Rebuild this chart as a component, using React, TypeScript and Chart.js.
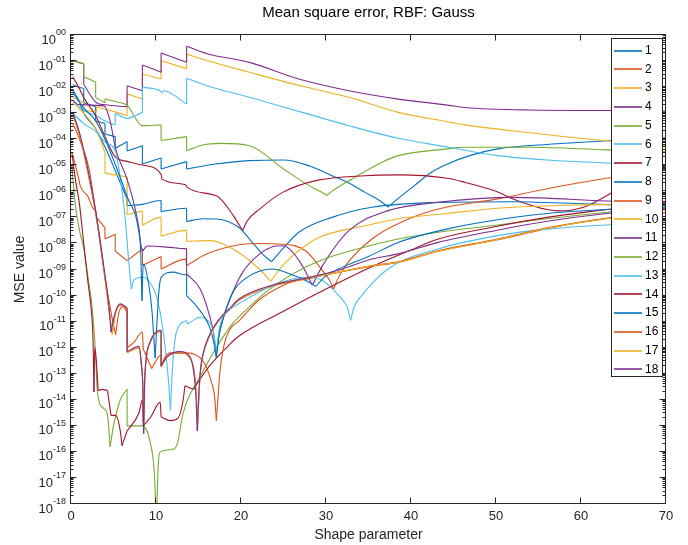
import React, { useEffect, useRef } from 'react';
import { Chart, registerables } from 'chart.js';

Chart.register(...registerables);

// MATLAB default line colour order (cycles every 7 series)
const lineColors = ['#0072BD', '#D95319', '#EDB120', '#7E2F8E', '#77AC30', '#4DBEEE', '#A2142F'];
const seriesLabels = ['1', '2', '3', '4', '5', '6', '7', '8', '9', '10', '11', '12', '13', '14', '15', '16', '17', '18'];
const xTickValues = [0, 10, 20, 30, 40, 50, 60, 70];
const xTickLabels = ['0', '10', '20', '30', '40', '50', '60', '70'];
const yTickExponents = [0, -1, -2, -3, -4, -5, -6, -7, -8, -9, -10, -11, -12, -13, -14, -15, -16, -17, -18];
const yTickExpLabels = ['00', '-01', '-02', '-03', '-04', '-05', '-06', '-07', '-08', '-09', '-10', '-11', '-12', '-13', '-14', '-15', '-16', '-17', '-18'];

// Each series: [shape parameter, log10(MSE), cusp flag (1 = sharp corner/dip)]
const s01 = [[0.2,-1.9],[0.9,-2.0],[1.5,-2.05],[1.5,-2.6],[2.9,-2.75],[2.9,-3.3],[4.0,-3.4],[4.0,-3.8],[5.2,-3.9],[5.2,-4.35],[6.6,-4.1],[6.6,-4.45],[8.4,-4.25],[8.4,-4.95],[10.6,-4.72],[10.6,-5.14],[13.6,-4.86],[13.6,-5.14],[17,-4.95],[21,-4.82],[25,-4.8],[28,-5.02],[30.7,-5.4],[32.8,-5.7],[34.6,-6.04],[36.3,-6.35],[37.3,-6.6,1],[38.4,-6.3],[40.4,-5.78],[42.4,-5.27],[44.3,-4.95],[47,-4.62],[50.2,-4.37],[56,-4.2],[63,-4.06],[70,-3.95]];
const s02 = [[0.2,-3.05],[1.0,-3.85],[2.1,-5.45],[3.0,-7.05],[3.8,-8.85],[4.5,-10.65],[4.86,-11.45,1],[5.2,-10.72],[5.8,-10.38],[6.4,-10.5],[6.6,-10.55],[6.6,-12.18],[8.0,-12.02],[8.3,-12.7],[8.45,-13.4],[8.55,-15.0,1],[8.65,-13.4],[8.8,-12.55],[9.3,-11.82],[10.5,-11.38],[10.6,-11.4],[10.6,-12.72],[11.3,-12.35],[12.8,-12.2],[14.0,-12.4],[14.6,-13.2],[14.9,-14.9,1],[15.2,-13.05],[15.5,-12.32],[16.3,-11.56],[17.5,-10.92],[18.7,-10.5],[19.8,-10.17],[23.7,-9.64],[28.4,-9.32],[31.5,-9.1],[35.4,-8.87],[38.5,-8.73],[43.2,-8.3],[50.2,-7.86],[56,-7.43],[63,-7.04],[70,-6.83]];
const s03 = [[0.2,-2.4],[1.5,-2.6],[1.5,-2.9],[3.0,-2.95],[3.0,-2.75],[4.0,-2.85],[5.2,-2.95],[6.6,-3.1],[6.6,-2.26],[8.4,-2.46],[8.4,-1.5],[10.6,-1.69],[10.6,-0.98],[13.6,-1.3],[13.6,-0.73],[16,-0.98],[21,-1.43],[27,-1.95],[32.7,-2.39],[38.5,-2.97],[44.3,-3.33],[46.3,-3.45],[54,-3.75],[63,-4.06],[70,-4.25]];
const s04 = [[0.2,-0.98],[0.9,-1.05],[1.5,-1.1],[1.5,-1.9],[3.0,-2.6],[4.0,-2.68],[6.6,-2.76],[6.6,-1.95],[8.4,-2.14],[8.4,-1.15],[10.6,-1.43],[10.6,-0.69],[13.6,-1.05],[13.6,-0.43],[16,-0.72],[21,-1.05],[26.8,-1.69],[32.7,-2.14],[38.5,-2.46],[44.3,-2.69],[46.3,-2.78],[54,-2.88],[63,-2.9],[70,-2.92]];
const s05 = [[0.2,-0.95],[0.9,-1.05],[1.5,-1.1],[1.5,-1.6],[2.9,-1.8],[2.9,-2.4],[4.0,-2.6],[4.0,-2.45],[5.2,-2.55],[6.6,-2.7],[8.4,-3.48],[10.6,-3.45],[10.6,-4.05],[13.6,-3.9],[13.6,-4.44],[15.5,-4.22],[17.6,-4.16],[21,-4.25],[25,-5.14],[28,-5.78],[29.3,-6.0],[30.1,-6.15,1],[30.9,-5.95],[32.7,-5.59],[36.6,-4.88],[38.5,-4.63],[44.3,-4.37],[46.3,-4.31],[54,-4.31],[63,-4.41],[70,-4.48]];
const s06 = [[0.2,-2.5],[1.5,-2.9],[3.0,-3.1],[4.0,-3.3],[5.2,-3.45],[5.2,-3.0],[6.6,-3.2],[8.4,-2.97],[8.4,-2.0],[10.5,-2.15],[10.7,-2.22,1],[10.9,-2.14],[13.6,-2.65],[13.6,-1.66],[16,-1.95],[21,-2.39],[27,-2.95],[32.7,-3.48],[38.5,-3.96],[44.3,-4.3],[50.2,-4.63],[56,-4.8],[63,-4.91],[70,-4.98]];
const s07 = [[0.2,-1.6],[0.9,-2.0],[1.5,-2.4],[2.9,-3.1],[4.0,-3.9],[5.25,-4.7],[6.6,-4.85],[8.5,-5.0],[10.6,-5.35],[10.7,-5.53],[13.5,-5.75],[13.6,-5.83],[17.1,-6.17],[19.1,-6.93],[19.8,-7.3],[20.2,-7.5,1],[20.7,-7.15],[22.2,-6.68],[24.9,-6.04],[28.8,-5.59],[34.6,-5.4],[38.5,-5.37],[44.3,-5.5],[46.3,-5.65],[50,-6.0],[52,-6.29],[56,-6.7],[57.5,-6.75],[60.3,-6.61],[63,-6.17],[66,-5.6],[70,-5.0]];
const s08 = [[0.2,-2.1],[0.9,-2.5],[1.5,-3.0],[2.9,-3.6],[4.0,-4.3],[5.2,-5.2],[6.6,-6.3],[6.6,-6.55],[8.4,-6.5],[10.5,-6.35],[10.6,-6.35],[10.6,-6.78],[13.5,-6.65],[13.6,-6.65],[13.6,-7.16],[15.5,-7.05],[17.1,-7.06],[19.8,-7.4],[21,-7.83],[22.5,-8.4],[23.6,-8.7,1],[24.9,-8.21],[26.8,-7.57],[30.7,-7.0],[35.4,-6.61],[44.3,-6.42],[52,-6.4],[63,-6.51],[70,-6.55]];
const s09 = [[0.2,-4.6],[0.9,-5.5],[1.1,-5.8],[2.0,-6.2],[2.5,-6.6],[3.0,-6.8],[3.0,-7.0],[4.0,-7.4],[4.0,-7.83],[5.2,-7.65],[5.2,-8.3],[6.6,-8.66,1],[8.4,-8.21],[8.4,-8.85],[10.6,-8.5],[10.6,-8.98],[13.5,-8.6],[13.6,-8.85,1],[16,-8.4],[19.8,-8.05],[22.2,-8.0],[24.5,-8.02],[27.6,-8.28],[29.6,-9.05],[30.4,-9.4],[30.9,-9.75,1],[31.4,-9.35],[32.3,-8.85],[35.4,-7.83],[39.3,-7.12],[43.2,-6.68],[50.2,-6.29],[56,-5.9],[63,-5.5],[70,-5.15]];
const s10 = [[0.2,-2.6],[1.5,-3.0],[2.9,-3.6],[4.0,-4.5],[4.0,-5.3],[6.6,-5.45],[6.6,-6.9],[8.4,-6.75],[8.4,-7.3],[10.5,-7.0],[10.6,-7.0],[10.6,-7.72],[13.5,-7.5],[13.6,-7.5],[13.6,-7.92],[16.3,-7.89],[19.5,-8.3],[22.2,-9.0],[23.5,-9.45,1],[24.9,-8.85],[28.8,-7.83],[34.6,-7.32],[38.5,-7.05],[44.3,-6.85],[50.2,-6.65],[63,-6.5],[70,-6.45]];
const s11 = [[0.2,-2.5],[0.8,-2.67],[3.9,-2.72],[4.6,-3.3],[5.25,-4.37],[6.6,-5.53],[7.5,-6.6],[8.0,-7.44],[8.2,-8.0],[8.4,-8.3,1],[9.0,-8.1],[11.3,-8.14],[13.4,-8.2],[13.6,-8.2],[13.6,-9.17],[15.2,-9.75],[16.3,-10.77],[16.8,-11.5],[17.1,-12.3,1],[17.4,-11.5],[17.7,-11.1],[18.7,-10.13],[20.2,-9.1],[22.2,-8.4],[23.7,-8.13],[24.9,-8.09],[25.7,-8.21],[27.2,-8.85],[28.4,-9.6,1],[29.6,-8.85],[32.7,-7.51],[37.3,-6.74],[43.2,-6.42],[52,-6.23],[63,-6.37],[70,-6.45]];
const s12 = [[0.1,-5.0],[0.5,-6.5],[1.0,-7.5],[1.5,-8.2],[2.0,-9.3],[2.5,-10.5],[2.9,-12.3],[3.1,-13.7],[3.9,-14.35],[4.3,-14.6],[4.6,-15.8,1],[5.0,-15.0],[5.8,-14.0],[6.6,-13.6],[6.6,-15.0],[8.4,-15.0],[9.3,-15.6],[9.8,-16.8],[10.05,-18.6,1],[10.3,-16.3],[10.5,-16.0],[12.0,-15.9],[12.5,-15.7],[13.2,-14.5],[15.2,-13.1],[18.7,-11.2],[19.8,-10.8],[24,-9.6],[29,-8.7],[35,-8.1],[38.5,-7.83],[43.2,-7.57],[50,-7.3],[56,-7.05],[63,-6.8],[70,-6.6]];
const s13 = [[0.2,-3.0],[1.5,-3.4],[2.9,-3.7],[4.0,-4.1],[5.25,-4.5],[5.8,-5.5],[6.3,-6.8],[6.8,-8.7],[7.1,-9.75,1],[7.4,-9.4],[8.4,-9.3],[9.3,-9.5],[10.2,-10.2],[10.9,-11.5],[11.5,-13.4],[11.7,-14.4,1],[11.9,-13.0],[12.4,-11.4],[13.6,-10.96,1],[13.7,-11.1,1],[15.2,-10.83],[16.2,-11.0],[16.7,-11.3],[17.1,-12.2,1],[17.5,-11.2],[18.5,-10.6],[19.8,-10.3],[23.7,-9.62],[27.6,-9.3],[29.6,-9.43],[31.5,-10.0],[32.5,-10.45],[32.9,-10.95,1],[33.3,-10.45],[34.2,-10.0],[37.3,-8.98],[43.2,-8.21],[50.2,-7.7],[56,-7.45],[63,-7.29],[70,-7.2]];
const s14 = [[0.1,-4.5],[0.5,-5.5],[1.0,-6.5],[1.5,-8.0],[2.0,-9.5],[2.4,-10.6],[2.6,-11.8],[2.7,-13.7,1],[2.8,-12.0],[3.0,-12.6],[3.2,-13.65,1],[3.7,-13.6],[4.3,-13.65,1],[4.7,-14.6,1],[5.25,-14.6],[5.8,-15.2],[6.0,-15.76,1],[6.6,-15.2,1],[8.0,-14.5],[8.4,-14.0],[8.5,-15.0,1],[9.3,-14.7],[10.5,-14.1],[10.6,-14.66,1],[11.7,-14.8],[12.6,-14.7],[13.2,-14.0],[13.4,-13.46,1],[14.4,-13.6,1],[15.2,-13.2],[16.3,-12.7],[18.7,-11.86],[19.8,-11.54],[25,-10.6],[30,-9.75],[35,-8.95],[40,-8.25],[43.2,-7.83],[50,-7.35],[56,-7.0],[63,-6.7],[70,-6.45]];
const s15 = [[0.2,-2.2],[1.5,-2.8],[2.9,-3.3],[4.0,-4.0],[5.25,-5.0],[6.6,-6.2],[8.0,-7.6],[8.2,-8.3],[8.35,-10.2,1],[8.5,-8.8],[8.8,-9.0],[9.5,-10.5],[9.9,-12.4,1],[10.3,-10.0],[10.6,-9.3],[12,-9.1],[13.4,-9.2],[13.6,-9.2],[13.6,-10.0],[15,-10.5],[16.3,-11.2],[16.8,-11.8],[17.1,-12.4,1],[17.4,-11.6],[17.8,-11.0],[19,-9.9],[20.5,-9.35],[23.7,-8.98],[26,-9.2],[27.8,-9.45],[28.8,-9.65,1],[29.8,-9.3],[31.5,-8.98],[35,-8.5],[38.5,-7.96],[44.3,-7.44],[50,-7.1],[56,-6.85],[63,-6.7],[70,-6.6]];
const s16 = [[0.2,-3.4],[0.5,-3.6],[1.0,-4.0],[2.1,-5.1],[3.0,-7.0],[4.0,-9.3],[4.8,-10.8],[5.25,-11.5,1],[5.6,-10.7],[6.2,-10.4],[6.5,-10.6],[6.6,-10.6],[6.6,-12.0],[7.4,-11.8],[8.4,-11.4],[8.5,-12.05,1],[9.5,-12.8,1],[10.0,-12.5],[10.5,-12.3],[10.6,-12.3],[10.6,-12.7],[11.0,-12.4],[11.7,-12.2],[13.4,-12.2],[14.5,-12.25],[15.7,-12.6],[16.5,-13.3],[16.9,-13.9],[17.1,-14.8,1],[17.3,-13.9],[17.5,-13.0],[18.0,-11.9],[18.7,-11.3],[19.8,-10.96],[22,-10.2],[25,-9.6],[28,-9.3],[31.5,-9.1],[35.4,-8.85],[38.5,-8.7],[43.2,-8.28],[50.2,-7.83],[56,-7.4],[63,-7.03],[70,-6.8]];
const s17 = [[0.2,-3.0],[1.0,-3.8],[2.1,-5.4],[3.0,-7.0],[3.8,-8.8],[4.5,-10.6],[4.86,-11.5,1],[5.2,-10.7],[5.8,-10.35],[6.4,-10.45],[6.6,-10.5],[6.6,-12.2],[8.0,-12.0],[8.3,-12.8],[8.45,-13.5],[8.55,-15.2,1],[8.65,-13.5],[8.8,-12.6],[9.3,-11.8],[10.5,-11.35],[10.6,-11.35],[10.6,-12.75],[11.3,-12.37],[12.8,-12.17],[14.0,-12.37],[14.6,-13.3],[14.75,-13.9],[14.9,-15.1,1],[15.05,-13.9],[15.2,-13.0],[15.5,-12.3],[16.3,-11.54],[17.5,-10.9],[18.7,-10.5],[19.8,-10.15],[23.7,-9.62],[28.4,-9.3],[31.5,-9.1],[35.4,-8.85],[38.5,-8.72],[43.2,-8.3],[50.2,-7.85],[56,-7.42],[63,-7.05],[70,-6.82]];
const s18 = [[0.2,-2.95],[1.0,-3.75],[2.1,-5.35],[3.0,-6.95],[3.8,-8.75],[4.5,-10.55],[4.7,-11.4,1],[5.2,-10.65],[5.8,-10.32],[6.4,-10.42],[6.6,-10.47],[6.6,-12.15],[8.0,-11.95],[8.3,-12.7],[8.45,-13.5],[8.55,-15.3,1],[8.65,-13.5],[8.8,-12.55],[9.3,-11.78],[10.5,-11.33],[10.6,-11.33],[10.6,-12.7],[11.3,-12.35],[12.8,-12.15],[14.0,-12.35],[14.6,-13.4],[14.72,-14.0],[14.85,-15.2,1],[15.0,-14.0],[15.2,-12.95],[15.5,-12.28],[16.3,-11.5],[17.5,-10.88],[18.7,-10.48],[19.8,-10.12],[23.7,-9.6],[28.4,-9.28],[31.5,-9.02],[35.4,-8.6],[38.5,-8.4],[43.2,-7.96],[50,-7.5],[56,-7.15],[63,-6.85],[70,-6.65]];

const allSeries = [s01, s02, s03, s04, s05, s06, s07, s08, s09, s10, s11, s12, s13, s14, s15, s16, s17, s18];

const AXIS_COLOR = '#262626';
const FONT_FAMILY = '"Liberation Sans", Arial, Helvetica, sans-serif';

// Split a series into smooth pieces: breaks at vertical jumps (equal x) and at flagged cusps.
function splitSeries(s: number[][]): number[][][] {
  const segs: number[][][] = [];
  let cur: number[][] = [s[0]];
  for (let k = 1; k < s.length; k++) {
    const p = s[k];
    const prev = s[k - 1];
    if (p[0] === prev[0]) {
      if (cur.length > 1) segs.push(cur);
      segs.push([prev, p]);
      cur = [p];
    } else {
      cur.push(p);
      if (p[2] === 1) {
        segs.push(cur);
        cur = [p];
      }
    }
  }
  if (cur.length > 1) segs.push(cur);
  return segs;
}

const framePlugin = {
  id: 'matlabFrame',
  afterDatasetsDraw(chart: any) {
    const { ctx, chartArea: a, scales } = chart;
    const xs = scales.x;
    const ys = scales.y;
    const L = Math.round(a.left) - 0.5;
    const R = Math.round(a.right) - 0.5;
    const T = Math.round(a.top) - 0.5;
    const B = Math.round(a.bottom) - 0.5;
    ctx.save();
    ctx.strokeStyle = AXIS_COLOR;
    ctx.lineWidth = 1;
    ctx.beginPath();
    ctx.rect(L, T, R - L, B - T);
    for (const v of xTickValues) {
      const px = Math.round(xs.getPixelForValue(v)) - 0.5;
      ctx.moveTo(px, B); ctx.lineTo(px, B - 6);
      ctx.moveTo(px, T); ctx.lineTo(px, T + 6);
    }
    for (const e of yTickExponents) {
      const py = Math.round(ys.getPixelForValue(Math.pow(10, e))) - 0.5;
      ctx.moveTo(L, py); ctx.lineTo(L + 6, py);
      ctx.moveTo(R, py); ctx.lineTo(R - 6, py);
      if (e < 0) {
        for (let m = 2; m <= 9; m++) {
          const pm = Math.round(ys.getPixelForValue(m * Math.pow(10, e))) - 0.5;
          ctx.moveTo(L, pm); ctx.lineTo(L + 3, pm);
          ctx.moveTo(R, pm); ctx.lineTo(R - 3, pm);
        }
      }
    }
    ctx.stroke();

    ctx.fillStyle = AXIS_COLOR;
    ctx.font = '13px ' + FONT_FAMILY;
    ctx.textAlign = 'center';
    ctx.textBaseline = 'middle';
    xTickValues.forEach((v, i) => {
      ctx.fillText(xTickLabels[i], xs.getPixelForValue(v), a.bottom + 12);
    });
    yTickExponents.forEach((e, i) => {
      const py = ys.getPixelForValue(Math.pow(10, e));
      const expStr = yTickExpLabels[i];
      ctx.font = '9px ' + FONT_FAMILY;
      const ew = ctx.measureText(expStr).width;
      const xEnd = a.left - 5;
      ctx.textAlign = 'left';
      ctx.fillText(expStr, xEnd - ew, py - 2);
      ctx.font = '13px ' + FONT_FAMILY;
      const bw = ctx.measureText('10').width;
      ctx.fillText('10', xEnd - ew - bw, py + 5);
    });
    ctx.font = '14px ' + FONT_FAMILY;
    ctx.textAlign = 'center';
    ctx.fillText('Shape parameter', (a.left + a.right) / 2, a.bottom + 31);
    ctx.save();
    ctx.translate(20, (a.top + a.bottom) / 2);
    ctx.rotate(-Math.PI / 2);
    ctx.fillText('MSE value', 0, 0);
    ctx.restore();
    ctx.font = '15px ' + FONT_FAMILY;
    ctx.fillStyle = '#000000';
    ctx.fillText('Mean square error, RBF: Gauss', (a.left + a.right) / 2, 13);
    ctx.restore();
  },
};

const legendPlugin = {
  id: 'matlabLegend',
  afterDraw(chart: any) {
    const { ctx } = chart;
    const boxL = 611.5, boxT = 38.5, boxW = 51, boxH = 338;
    ctx.save();
    ctx.fillStyle = '#ffffff';
    ctx.fillRect(boxL, boxT, boxW, boxH);
    ctx.strokeStyle = AXIS_COLOR;
    ctx.lineWidth = 1;
    ctx.strokeRect(boxL, boxT, boxW, boxH);
    ctx.font = '12px ' + FONT_FAMILY;
    ctx.textAlign = 'left';
    ctx.textBaseline = 'middle';
    seriesLabels.forEach((lab, i) => {
      const y = 50.7 + i * 18.74;
      ctx.strokeStyle = lineColors[i % 7];
      ctx.lineWidth = 1.6;
      ctx.beginPath();
      ctx.moveTo(614, Math.round(y));
      ctx.lineTo(642, Math.round(y));
      ctx.stroke();
      ctx.fillStyle = '#000000';
      ctx.fillText(lab, 645, y);
    });
    ctx.restore();
  },
};

export default function App() {
  const canvasRef = useRef<HTMLCanvasElement | null>(null);
  useEffect(() => {
    document.body.style.margin = '0';
    const canvas = canvasRef.current;
    if (!canvas) return;
    const datasets: any[] = [];
    allSeries.forEach((s, i) => {
      splitSeries(s).forEach((seg) => {
        datasets.push({
          label: seriesLabels[i],
          data: seg.map((p) => ({ x: p[0], y: Math.pow(10, p[1]) })),
          borderColor: lineColors[i % 7],
          backgroundColor: lineColors[i % 7],
          borderWidth: 1.1,
          pointRadius: 0,
          pointHoverRadius: 0,
          cubicInterpolationMode: 'monotone',
          fill: false,
          order: 18 - i,
        });
      });
    });
    const chart = new Chart(canvas, {
      type: 'line',
      data: { datasets },
      options: {
        responsive: false,
        animation: false,
        events: [],
        layout: { padding: { left: 71, right: 22, top: 35, bottom: 41 } },
        scales: {
          x: { type: 'linear', min: 0, max: 70, display: false },
          y: { type: 'logarithmic', min: 1e-18, max: 1, display: false },
        },
        plugins: {
          legend: { display: false },
          tooltip: { enabled: false },
          title: { display: false },
        },
      },
      plugins: [framePlugin, legendPlugin],
    } as any);
    return () => chart.destroy();
  }, []);
  return (
    <div style={{ width: 688, height: 545, background: '#ffffff' }}>
      <canvas ref={canvasRef} width={688} height={545} style={{ display: 'block' }} />
    </div>
  );
}
